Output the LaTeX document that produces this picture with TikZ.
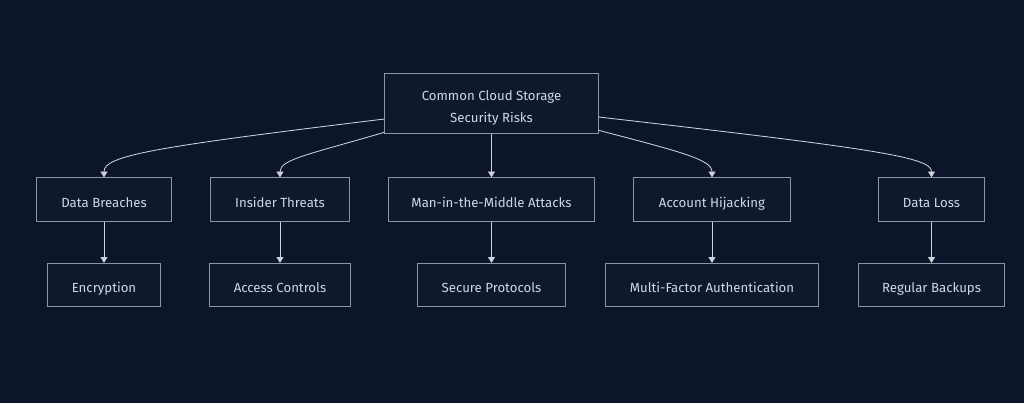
\documentclass[tikz,border=0pt]{standalone}
\usepackage{fontspec}
\setmainfont{Fira Sans}
\usetikzlibrary{positioning}
\usetikzlibrary{arrows.meta}
\definecolor{bgnavy}{RGB}{12,21,41}
\definecolor{boxfill}{RGB}{15,25,46}
\definecolor{boxline}{RGB}{135,150,172}
\definecolor{linkgray}{RGB}{205,210,220}
\definecolor{labeltext}{RGB}{208,216,228}
\tikzset{
  riskbox/.style={rectangle,draw=boxline,fill=boxfill,line width=0.7pt,
    text=labeltext,font=\fontsize{9.4}{15.7}\selectfont,align=center,
    minimum height=1.08cm,inner sep=0pt,text height=12pt,text depth=1pt},
  link/.style={draw=linkgray,line width=0.6pt,-{Triangle[length=4.2pt,width=5pt]}}
}

\begin{document}
\begin{tikzpicture}[x=0.025cm,y=-0.025cm]
\useasboundingbox[fill=bgnavy] (0,0) rectangle (1024,403);
% root
\node[riskbox,minimum width=5.33cm,minimum height=1.5cm,text height=29.7pt,text depth=1.9pt] (root) at (491.5,103)
  {Common Cloud Storage\\Security Risks};
% risks
\node[riskbox,minimum width=3.35cm] (breach) at (104,199.5) {Data Breaches};
\node[riskbox,minimum width=3.45cm] (insider) at (280,199.5) {Insider Threats};
\node[riskbox,minimum width=5.13cm] (mitm) at (491.5,199.5) {Man-in-the-Middle Attacks};
\node[riskbox,minimum width=3.9cm] (hijack) at (712,199.5) {Account Hijacking};
\node[riskbox,minimum width=2.63cm] (loss) at (931.5,199.5) {Data Loss};
% measures
\node[riskbox,minimum width=2.8cm] (encrypt) at (104,285) {Encryption};
\node[riskbox,minimum width=3.52cm] (access) at (280,285) {Access Controls};
\node[riskbox,minimum width=3.68cm] (secure) at (491.5,285) {Secure Protocols};
\node[riskbox,minimum width=5.33cm] (mfa) at (712,285) {Multi-Factor Authentication};
\node[riskbox,minimum width=3.65cm] (backup) at (931.5,285) {Regular Backups};

\draw[link] ([yshift=-0.4cm]root.west) .. controls +(-230,28) and +(0,-22) .. (breach.north);
\draw[link] ([yshift=0.03cm]root.south west) .. controls +(-75,22) and +(0,-18) .. (insider.north);
\draw[link] (root.south) -- (mitm.north);
\draw[link] ([yshift=0.08cm]root.south east) .. controls +(80,21) and +(0,-18) .. (hijack.north);
\draw[link] ([yshift=-0.35cm]root.east) .. controls +(280,32) and +(0,-20) .. (loss.north);

\draw[link] (breach) -- (encrypt);
\draw[link] (insider) -- (access);
\draw[link] (mitm) -- (secure);
\draw[link] (hijack) -- (mfa);
\draw[link] (loss) -- (backup);

\end{tikzpicture}
\end{document}
